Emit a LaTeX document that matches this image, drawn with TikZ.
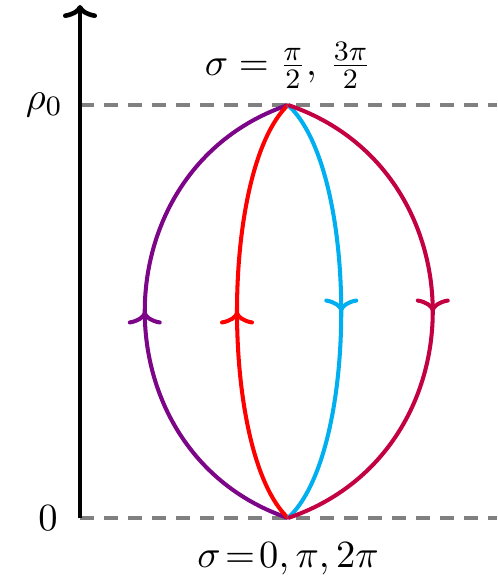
\documentclass[tikz,border=0pt]{standalone}
\usepackage{amsmath,amssymb}
\usepackage{xcolor}
\usepackage{tikz}
\usetikzlibrary{arrows.meta,positioning,decorations.markings}

\definecolor{lilac}{RGB}{125,5,135}
\definecolor{skyblue}{RGB}{0,175,240}
\definecolor{crimson}{RGB}{195,0,65}

\begin{document}
\begin{tikzpicture}[x=0.01cm,y=-0.01cm,>={Computer Modern Rightarrow[width=0.34cm,length=0.13cm]},font=\fontsize{11}{13}\selectfont]
  \tikzstyle{level}=[draw=gray,line width=1.2pt,dash pattern=on 0.14cm off 0.1cm]
  \tikzstyle{orbit}=[line width=1.15pt,postaction={decorate},decoration={markings,mark=at position 0.5 with {\arrow{>}}}]
  \useasboundingbox (0,0) rectangle (497,582);
  \coordinate (origin) at (80,518);
  \coordinate (rhomax) at (80,105);
  \coordinate (axisend) at (80,5);
  \coordinate (top) at (288,105);
  \coordinate (bot) at (288,518);
  \coordinate (topend) at (497,105);
  \coordinate (botend) at (497,518);
  % horizontal levels
  \draw[level] (rhomax) -- (topend);
  \draw[level] (origin) -- (botend);
  \draw[->,line width=1.3pt] (origin) -- (axisend);
  \node[left=0.05cm of rhomax] (rholabel) {$\rho_0$};
  \node[left=0.1cm of origin] (zerolabel) {$0$};
  \node[above=0.04cm of top] (toplabel) {$\sigma=\frac{\pi}{2},\,\frac{3\pi}{2}$};
  \node[below=0.12cm of bot] (botlabel) {$\sigma\!=\!0,\pi,2\pi$};
  % the four curves
  \foreach \a/\b/\dx/\dy/\col in {bot/top/-191/-65/lilac,bot/top/-68/-65/red,top/bot/71/65/skyblue,top/bot/193/65/crimson}
    \draw[orbit,\col] (\a) .. controls +(\dx,\dy) and +(\dx,-\dy) .. (\b);
\end{tikzpicture}
\end{document}
